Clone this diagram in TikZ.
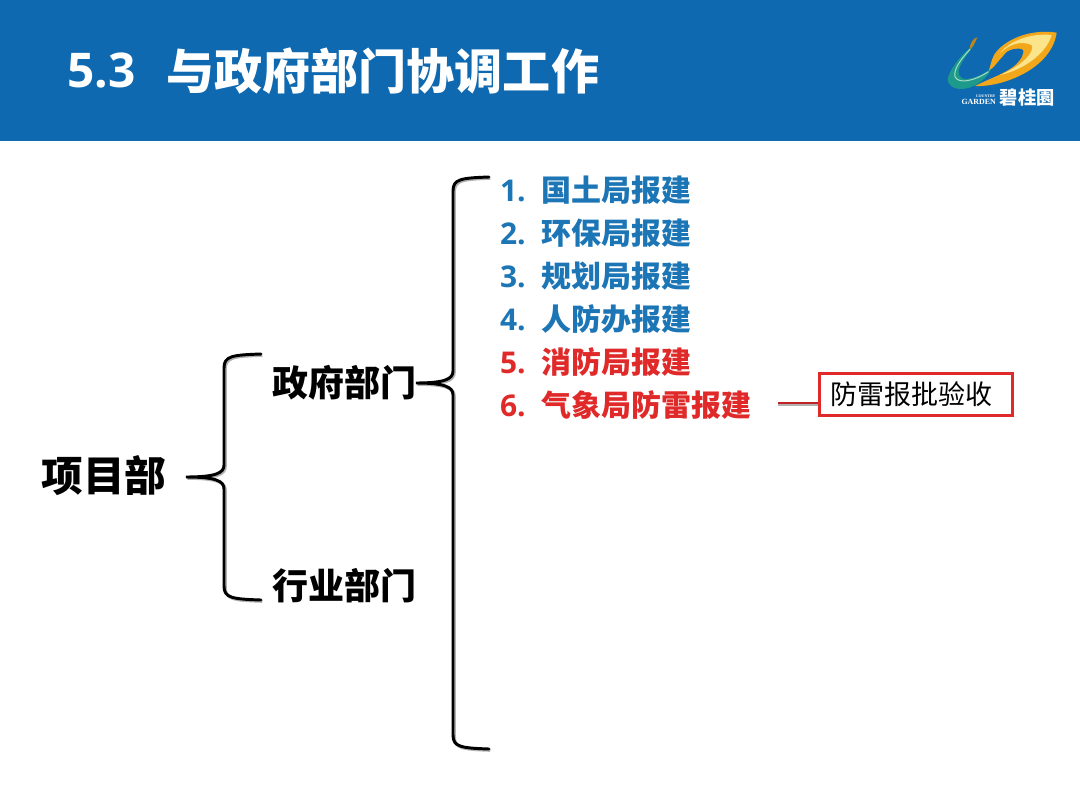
\documentclass[tikz,border=0pt]{standalone}
\usepackage{fontspec}
\setmainfont{Open Sans}
\newfontfamily\cjk{Noto Sans CJK SC}
\newfontfamily\cjktc{Noto Sans CJK TC}
\newfontfamily\logoserif{Liberation Serif}
\usepackage{xcolor}
\usetikzlibrary{arrows.meta,positioning,calc}
\definecolor{Band}{HTML}{0F69B0}
\definecolor{ItemBlue}{HTML}{1C75B5}
\definecolor{ItemRed}{HTML}{E02A2A}
\definecolor{SwanTeal}{HTML}{1E9A8C}
\definecolor{SwanPale}{HTML}{A8DCCB}
\definecolor{WingGold}{HTML}{F2A71B}
\definecolor{WingPale}{HTML}{FBE48A}
\newcommand{\bracepath}[6]{(#5,#4) .. controls (#3+8,#4+1) and (#3,#4+2) .. (#3,#4+14) -- (#3,#2-12) .. controls (#3,#2-4) and (#3-8,#2) .. (#1,#2) .. controls (#3-8,#2) and (#3,#2+4) .. (#3,#2+12) -- (#3,#6-14) .. controls (#3,#6-2) and (#3+8,#6-1) .. (#5,#6)}
\newcommand{\itemtext}[2]{\makebox[29.8pt][l]{#1.}{\cjk #2}}
\begin{document}
\begin{tikzpicture}[x=0.025cm, y=-0.025cm, font=\cjk\bfseries]
\tikzset{
  topic/.style={text=black, inner sep=0pt, font=\cjk\bfseries\fontsize{25.6}{28}\selectfont},
  item/.style={inner sep=0pt, outer sep=0pt, minimum height=1.075cm, anchor=north west, font=\bfseries\fontsize{21.3}{24}\selectfont},
  brace/.style={draw=black, line width=2.1pt, line cap=round, preaction={draw=black!30, line width=2.2pt, transform canvas={shift={(0.9pt,-0.9pt)}}}},
  notebox/.style={draw=ItemRed, line width=2.2pt, fill=white, inner sep=0pt, minimum width=4.84cm, minimum height=1.06cm, font=\cjk\fontsize{19.2}{22}\selectfont},
  stub/.style={draw=ItemRed!85!black, line width=1.7pt, preaction={draw=black!30, line width=1.7pt, transform canvas={shift={(0pt,-1.1pt)}}}}
}
\useasboundingbox (0,0) rectangle (1080,810);
\fill[white] (0,0) rectangle (1080,810);
\fill[Band] (0,0) rectangle (1080,141);
% title
\node[anchor=west, text=white, inner sep=0pt, font=\bfseries\fontsize{34}{37}\selectfont] (num) at (67,71) {5.3};
\node[anchor=west, text=white, inner sep=0pt, font=\cjk\bfseries\fontsize{34.2}{38}\selectfont] (title) at (166,71) {与政府部门协调工作};
% logo
\begin{scope}[shift={(920,10)}, x=0.00833cm, y=-0.00833cm]
\fill[WingGold] (410,68) .. controls (330,55) and (250,90) .. (222,135) .. controls (212,155) and (210,175) .. (205,185) .. controls (225,170) and (235,150) .. (262,125) .. controls (290,108) and (325,115) .. (300,150) .. controls (275,185) and (220,200) .. (165,228) .. controls (250,232) and (395,175) .. (410,68) -- cycle;
\fill[WingPale] (395,75) .. controls (330,68) and (265,95) .. (240,130) .. controls (265,105) and (300,90) .. (335,105) .. controls (345,125) and (310,165) .. (240,195) .. controls (310,180) and (380,130) .. (395,75) -- cycle;
\fill[Band] (262,125) .. controls (285,112) and (320,112) .. (308,132) .. controls (295,155) and (260,165) .. (235,172) .. controls (240,155) and (250,135) .. (262,125) -- cycle;
\fill[SwanTeal] (165,100) .. controls (135,125) and (95,165) .. (83,205) .. controls (83,240) and (130,245) .. (165,226) .. controls (190,212) and (205,195) .. (215,175) .. controls (195,190) and (170,203) .. (140,207) .. controls (118,208) and (110,190) .. (120,170) .. controls (130,145) and (150,125) .. (165,100) -- cycle;
\draw[SwanPale, line width=0.7pt] (150,118) .. controls (120,150) and (100,180) .. (105,200) .. controls (115,222) and (160,215) .. (205,185);
\fill[WingGold!80!black] (150,108) .. controls (155,95) and (160,85) .. (172,82) .. controls (168,92) and (165,100) .. (150,118) -- cycle;
\node[text=white, inner sep=0pt, font=\cjktc\bfseries\fontsize{13}{14}\selectfont] (logoname) at (322,262) {碧桂園};
\node[text=white, inner sep=0pt, font=\logoserif\bfseries\fontsize{5.6}{6}\selectfont] (logogarden) at (176,277) {GARDEN};
\node[text=white, inner sep=0pt, font=\logoserif\bfseries\fontsize{2.8}{3}\selectfont] (logocountry) at (197,258) {COUNTRY};
\end{scope}
% tree
\node[inner sep=0pt, text=black, font=\cjk\bfseries\fontsize{29.6}{32}\selectfont] (root) at (104,476) {项目部};
\node[topic] (gov) at (344,383) {政府部门};
\node[topic] (trade) at (344,586) {行业部门};
\node[item, text=ItemBlue] (item1) at (500,168.5) {\itemtext{1}{国土局报建}};
\node[item, text=ItemBlue, below=0pt of item1.south west, anchor=north west] (item2) {\itemtext{2}{环保局报建}};
\node[item, text=ItemBlue, below=0pt of item2.south west, anchor=north west] (item3) {\itemtext{3}{规划局报建}};
\node[item, text=ItemBlue, below=0pt of item3.south west, anchor=north west] (item4) {\itemtext{4}{人防办报建}};
\node[item, text=ItemRed, below=0pt of item4.south west, anchor=north west] (item5) {\itemtext{5}{消防局报建}};
\node[item, text=ItemRed, below=0pt of item5.south west, anchor=north west] (item6) {\itemtext{6}{气象局防雷报建}};
\node[notebox] (note) at (916,394.5) {\hspace{-7pt}防雷报批验收};
\coordinate (notestub) at (778,403);
\draw[brace] \bracepath{186}{477}{224}{354}{261}{600};
\draw[brace] \bracepath{416}{383}{453}{177}{489}{749};
\draw[stub] (notestub) -- (notestub -| note.west);
\end{tikzpicture}
\end{document}
